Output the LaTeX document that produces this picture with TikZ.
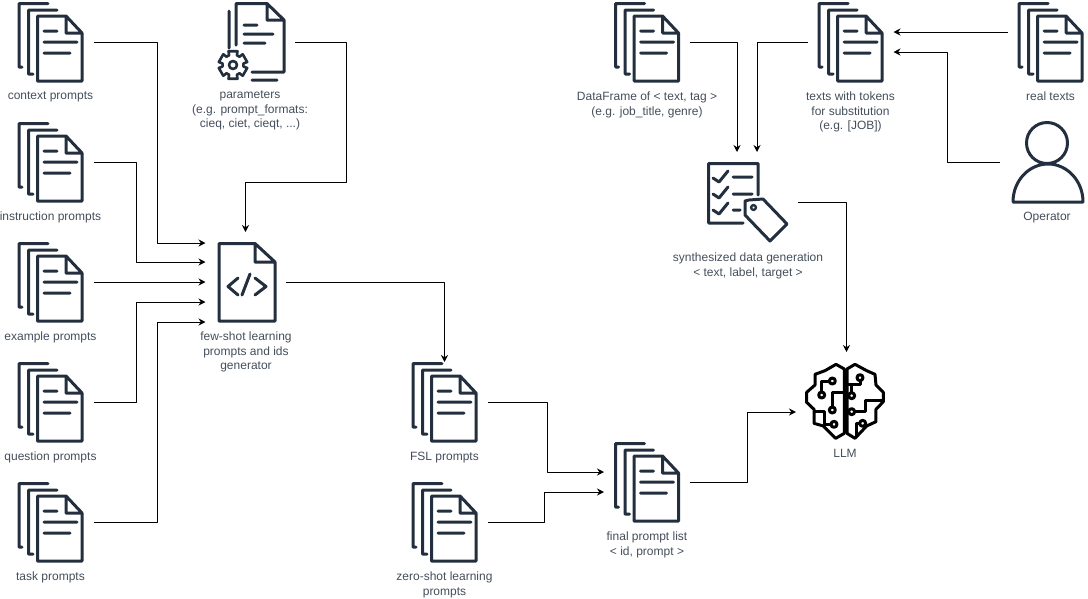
\documentclass[tikz,border=0pt]{standalone}
\usepackage{fontspec}
\usetikzlibrary{arrows.meta}
\setmainfont{Liberation Sans}
\definecolor{iconcol}{HTML}{232F3E}
\tikzset{
	iconline/.style={draw=iconcol,line width=3,line join=round,line cap=round},
	iconbox/.style={inner sep=0,outer sep=0,minimum width=#1,minimum height=80},
	lbl/.style={inner sep=0,outer sep=0,anchor=north,align=center,text=iconcol!85!white,font=\fontsize{12}{14.5}\selectfont},
	conn/.style={black,line width=1,->},
	docstack/.pic={
		\draw[iconline] (37.5,16)--(66,16)--(82,33)--(82,81)--(37.5,81)--cycle
		(66,16)--(66,33)--(82,33)
		(44,31)--(57,31) (44,42)--(77,42) (44,53)--(70,53)
		(57,10)--(28.5,10)--(28.5,74)--(33,74)
		(48,3.5)--(19,3.5)--(19,67)--(22,67);
	}
}
\begin{document}
\begin{tikzpicture}[x=1pt,y=-1pt,>={Stealth[length=7pt,width=7pt]},line join=round]
	\useasboundingbox (0,0) rectangle (1088,598);
	% stacks of documents
	\foreach \n/\x/\y/\t in {context/0/0/{context prompts},
		instruction/0/120/{instruction prompts},
		example/0/240/{example prompts},
		question/0/360/{question prompts},
		task/0/480/{task prompts},
		fsl/394/360/{FSL prompts},
		zeroshot/394/480/{zero-shot learning\\prompts},
		final/596.5/440/{final prompt list\\< id, prompt >},
		dataframe/596.5/0/{DataFrame of < text, tag >\\(e.g. job\_title, genre)},
		tokens/800/0/{texts with tokens\\for substitution\\(e.g. [JOB])},
		real/1000/0/{real texts}}{
		\node[iconbox=86] (\n) at (\x+50.5,\y+42) {};
		\pic at (\x,\y) {docstack};
		\node[lbl] (\n lbl) at (\x+50.5,\y+92) {\t};
	}
	% parameters
	\node[iconbox=90] (params) at (250,42) {};
	\draw[iconline] (236,45)--(236,3.5)--(267,3.5)--(284,20)--(284,72)--(252,72)
	(267,3.5)--(267,20)--(284,20)
	(244,25)--(257,25) (244,34)--(273,34) (244,43)--(265,43)
	(229,48)--(229,11) (252,80)--(277,80);
	\begin{scope}[shift={(233,65)}]
		\draw[iconline,line width=2.6] (72:14.5) \foreach \a in {90,150,210,270,330,390}{--(\a-18:14.5)--(\a+18:14.5)--(\a+22:10.5)--(\a+38:10.5)} --cycle;
		\draw[iconline,line width=2.6] (0,0) circle (4);
	\end{scope}
	\node[lbl] (paramslbl) at (250,91) {parameters\\(e.g. prompt\_formats:\\ cieq, ciet, cieqt, ...)};
	% generator
	\node[iconbox=80,minimum height=100] (gen) at (245.5,282) {};
	\draw[iconline] (219,243.5)--(255,243.5)--(275,262)--(275,321)--(219,321)--cycle
	(255,243.5)--(255,262)--(275,262)
	(238,278)--(228,286.5)--(238,295) (255,278)--(266,286.5)--(255,295) (242,295)--(250,274);
	\node[lbl] (genlbl) at (246,332) {few-shot learning\\prompts and ids\\generator};
	% synthesized data
	\node[iconbox=100,minimum height=100] (synth) at (748,202) {};
	\draw[iconline] (758,195)--(758,163.5)--(708.5,163.5)--(708.5,223)--(743,223)
	(713,178)--(719,182)--(728,171) (713,194)--(719,198)--(728,187) (713,210)--(719,214)--(728,203)
	(733,177)--(752,177) (733,194)--(752,194) (733,210)--(740,210);
	\draw[iconline] (745,201)--(749,200)--(763,199)--(787,224)--(770,241)--(745,215)--cycle;
	\draw[iconline,line width=2.4] (753.5,207.5) circle (2.4);
	\node[lbl] (synthlbl) at (748,253) {synthesized data generation\\< text, label, target >};
	% operator
	\node[iconbox=94] (operator) at (1047,162) {};
	\draw[iconline] (1047,143) circle (20.5)
	(1013,202)--(1083,202) (1013,202) arc[start angle=180,end angle=360,x radius=35,y radius=38];
	\node[lbl] (operatorlbl) at (1047,212) {Operator};
	% LLM
	\node[iconbox=101,minimum height=120] (llm) at (846.5,412) {};
	\begin{scope}[shift={(800,355)},x=0.3333pt,y=-0.3333pt,line width=3,line join=round]
		\draw (133,42)--(108,28)--(75,47)--(45,58)--(45,90)--(20,112)--(20,142)--(42,163)--(42,205)--(70,213)--(107,250)--(133,235)--cycle;
		\draw (141,42)--(165,28)--(200,47)--(225,58)--(228,90)--(250,112)--(250,140)--(228,163)--(228,200)--(200,213)--(165,250)--(141,235)--cycle;
		\draw (88,78)--(65,78)--(65,111) (97,156)--(97,113)--(133,113) (93,208)--(72,208)--(72,170)--(42,170);
		\draw (180,77)--(180,88)--(141,88) (155,113)--(155,88) (164,170)--(195,170)--(195,135)--(250,135) (179,205)--(170,205)--(170,243);
		\foreach \px/\py/\pr in {97/78/9,65/120/9,97/165/9,102/208/9,180/68/9,155/122/9,155/170/9,188/205/9}
			\draw (\px,\py) circle (\pr);
	\end{scope}
	\node[lbl] (llmlbl) at (845,449) {LLM};
	% connectors
	\foreach \n/\dx/\s in {context/64/39,instruction/43/20,question/43/-20,task/64/-40}
		\draw[conn] (\n.east)--++(\dx,0)|-([yshift=\s]gen.west);
	\draw[conn] (example.east)--(gen.west);
	\draw[conn] (params.east)-|++(51.5,140)-|(gen.north);
	\draw[conn] (gen.east)-|(fsl.north);
	\draw[conn] (fsl.east)--++(60,0)|-([yshift=10]final.west);
	\draw[conn] (zeroshot.east)--++(57,0)|-([yshift=-10]final.west);
	\draw[conn] (final.east)--++(57,0)|-(llm.west);
	\draw[conn] (dataframe.east)-|([xshift=-11]synth.north);
	\draw[conn] (tokens.west)-|([xshift=9]synth.north);
	\draw[conn] (synth.east)-|(llm.north);
	\draw[conn] ([yshift=10]real.west)--([yshift=10]tokens.east);
	\draw[conn] (operator.west)--++(-53,0)|-([yshift=-10]tokens.east);
\end{tikzpicture}
\end{document}
